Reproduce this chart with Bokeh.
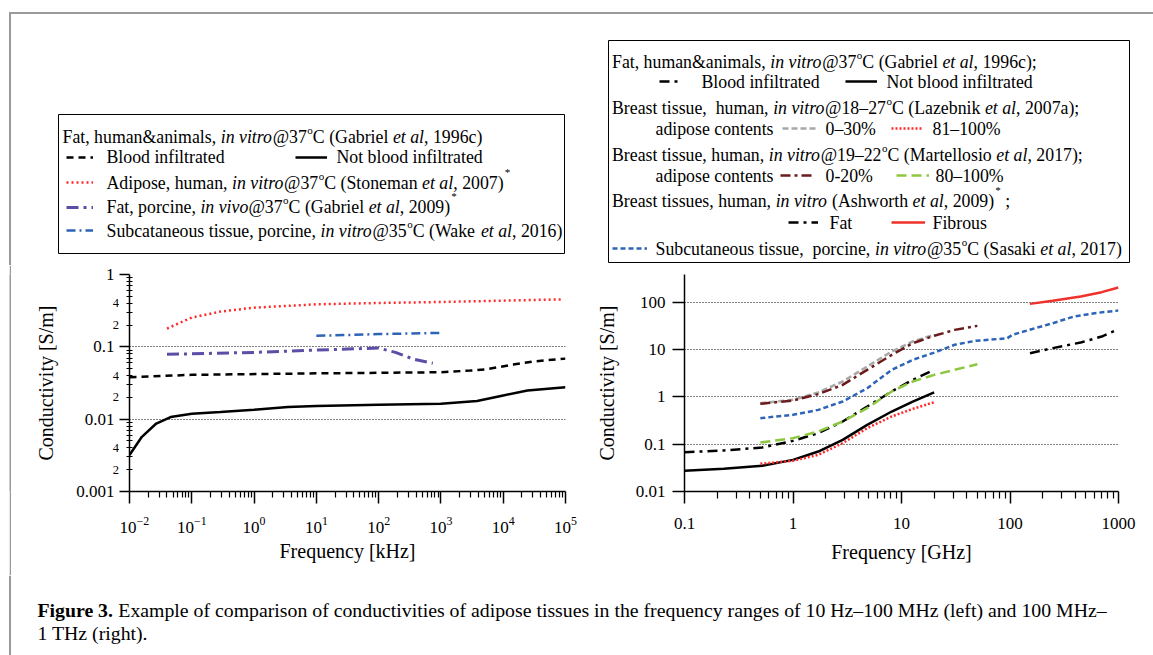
import math
from bokeh.plotting import figure
from bokeh.models import Range1d, FixedTicker, Label, BoxAnnotation, Legend, LegendItem, LogScale, Spacer
from bokeh.layouts import column, row
from bokeh.embed import file_html
from bokeh.resources import INLINE

SERIF = "Liberation Serif"

# ---------------- data: left panel (frequency kHz, conductivity S/m) ----------------
gab96_notblood_khz = [0.01, 0.0158, 0.0269, 0.0457, 0.1, 0.288, 1, 3.5, 10, 100, 1000, 3800, 10000, 24500, 100000]
gab96_notblood_sm = [0.0032, 0.0057, 0.0087, 0.0107, 0.0119, 0.0126, 0.0135, 0.0147, 0.0152, 0.0158, 0.0163, 0.0178, 0.0213, 0.0249, 0.0277]
gab96_blood_khz = [0.01, 0.1, 10, 1000, 2950, 5000, 14500, 31600, 100000]
gab96_blood_sm = [0.038, 0.041, 0.043, 0.0445, 0.047, 0.0485, 0.0568, 0.063, 0.0687]
stoneman_khz = [0.04, 0.1, 0.288, 1, 10, 100, 1000, 10000, 85000]
stoneman_sm = [0.179, 0.254, 0.307, 0.348, 0.387, 0.404, 0.417, 0.435, 0.453]
gab09_khz = [0.04, 0.1, 1, 10, 100, 186, 355, 740]
gab09_sm = [0.0787, 0.080, 0.0838, 0.0903, 0.0962, 0.0838, 0.068, 0.0592]
wake_khz = [10, 100, 1000]
wake_sm = [0.142, 0.150, 0.156]

# ---------------- data: right panel (frequency GHz, conductivity S/m) ----------------
gab_ghz = [0.1, 0.23, 0.52, 1, 1.71, 2.87, 4.83, 8.13, 12.7, 20]
gab_notblood_sm = [0.0273, 0.0301, 0.0349, 0.0466, 0.070, 0.1236, 0.256, 0.49, 0.796, 1.24]
gab_blood_sm = [0.0678, 0.0735, 0.085, 0.1175, 0.171, 0.301, 0.625, 1.30, 2.29, 3.72]
laz_ghz = [0.5, 1, 1.71, 2.87, 4.83, 8.13, 12.7, 20]
laz_0_30_sm = [0.735, 0.865, 1.24, 2.11, 4.37, 9.08, 14.8, 20.4]
laz_81_100_sm = [0.0385, 0.0445, 0.0596, 0.105, 0.218, 0.385, 0.557, 0.77]
mar_ghz = [0.5, 1, 1.71, 2.87, 4.83, 8.13, 12.7, 20, 30.9, 50]
mar_0_20_sm = [0.711, 0.838, 1.14, 1.79, 3.72, 7.7, 13.6, 19.5, 26, 31.6]
mar_80_100_sm = [0.108, 0.134, 0.185, 0.301, 0.577, 1.30, 2.11, 2.92, 3.72, 4.9]
sas_ghz = [0.5, 1, 1.71, 2.87, 4.83, 8.13, 12.7, 20, 30.9, 48.3, 94.2, 105, 158, 248, 386, 603, 1000]
sas_sm = [0.354, 0.417, 0.531, 0.796, 1.52, 3.72, 6.05, 8.6, 12.6, 15.3, 17.3, 20.4, 26.9, 36, 49.8, 58.7, 66.7]
ash_ghz = [152.8, 247.7, 448.7, 699.8, 1000]
ash_fibrous_sm = [92.2, 107, 132, 163, 204]
ash_fat_sm = [8.37, 10.7, 14.1, 18.8, 26.9]

# ---------------- ticks ----------------
left_x_ticks = [1e-2, 1e-1, 1e0, 1e1, 1e2, 1e3, 1e4, 1e5]
left_y_ticks = [0.001, 0.01, 0.1, 1.0]
left_y_labels = ["0.001", "0.01", "0.1", "1"]
left_y_minor_marked = [0.002, 0.004, 0.02, 0.04, 0.2, 0.4]
left_y_minor_text = ["2", "4", "2", "4", "2", "4"]
right_x_ticks = [0.1, 1.0, 10.0, 100.0, 1000.0]
right_x_labels = ["0.1", "1", "10", "100", "1000"]
right_y_ticks = [0.01, 0.1, 1.0, 10.0, 100.0]
right_y_labels = ["0.01", "0.1", "1", "10", "100"]

# ---------------- line styles ----------------
ST = {
    "blood": dict(line_color="black", line_width=2.5, line_dash="7 5"),
    "notblood": dict(line_color="black", line_width=2.5),
    "stoneman": dict(line_color="#ff2b2b", line_width=2.5, line_dash="2 3"),
    "gab09": dict(line_color="#5a4ea6", line_width=3, line_dash="12 5 3 5"),
    "wake": dict(line_color="#2e64b8", line_width=2.5, line_dash="9 4 2 4"),
    "r_blood": dict(line_color="black", line_width=2.5, line_dash="10 5 3 5"),
    "laz0": dict(line_color="#a8a8a8", line_width=2.5, line_dash="6 3"),
    "laz81": dict(line_color="#ff2b2b", line_width=2.5, line_dash="2 2"),
    "mar0": dict(line_color="#6b1b1b", line_width=2.5, line_dash="10 4 3 4"),
    "mar80": dict(line_color="#8dc63f", line_width=2.5, line_dash="10 5"),
    "sasaki": dict(line_color="#2e64b8", line_width=2.5, line_dash="5 3"),
    "fibrous": dict(line_color="#f0302a", line_width=2.5),
    "ashfat": dict(line_color="black", line_width=2.5, line_dash="10 5 3 5"),
}

# ---------------- text metrics (Times / Liberation Serif, per 1000 em) ----------------
W_REG = {' ': 250, '\u00a0': 250, '%': 833, '&': 778, '(': 333, ')': 333, '*': 500, ',': 250, '-': 333,
         '.': 250, ';': 278, '@': 921, '–': 500,
         'A': 722, 'B': 667, 'C': 667, 'F': 556, 'G': 722, 'H': 722, 'L': 611, 'M': 889, 'N': 722,
         'S': 556, 'T': 611, 'W': 944,
         'a': 444, 'b': 500, 'c': 444, 'd': 500, 'e': 444, 'f': 333, 'g': 500, 'h': 500, 'i': 278,
         'j': 278, 'k': 500, 'l': 278, 'm': 778, 'n': 500, 'o': 500, 'p': 500, 'q': 500, 'r': 333,
         's': 389, 't': 278, 'u': 500, 'v': 500, 'w': 722, 'x': 500, 'y': 500, 'z': 444}
W_IT = {' ': 250, 'a': 500, 'e': 444, 'i': 278, 'l': 278, 'n': 500, 'o': 500, 'r': 389, 't': 278, 'v': 444}
W_BOLD = {'F': 611, 'i': 278, 'g': 500, 'u': 556, 'r': 444, 'e': 444, ' ': 250, '3': 500, '.': 250}


def tw(s, table):
    return sum(table.get(c, 500) for c in s) / 1000.0


FS = 17.8
GREY = "#9a9a9a"


def add_text(p, fr, px, py, text, size, style="normal", align="left", angle=0.0):
    p.add_layout(Label(x=px - fr[0], y=fr[1] - py, x_units="screen", y_units="screen", text=text,
                       text_font=SERIF, text_font_size=f"{size}px", text_font_style=style,
                       text_align=align, text_baseline="middle", text_color="black", angle=angle))


def rich(p, fr, x, y, segs, size=FS):
    for text, kind in segs:
        table = W_IT if kind == "i" else W_REG
        s = size
        dy, dx = 0, 0
        if kind == "sup":
            s, dy, dx = round(size * 0.62, 1), -7, 0.5
        elif kind == "star":
            s, dy, dx = round(size * 0.62, 1), -11, 1
        stripped = text.lstrip(" ")
        lead = tw(text[:len(text) - len(stripped)], table) * s
        if stripped.strip():
            add_text(p, fr, x + dx + lead, y + dy, stripped, s, style="italic" if kind == "i" else "normal")
        x += tw(text, table) * s + dx


def box(p, fr, l, r, t, b, line="black", fill=None):
    p.add_layout(BoxAnnotation(left=l - fr[0], right=r - fr[0], top=fr[1] - t, bottom=fr[1] - b,
                               left_units="screen", right_units="screen", top_units="screen",
                               bottom_units="screen", fill_color=fill, fill_alpha=1 if fill else 0,
                               line_color=line, line_alpha=1, line_width=1))


def sample(p, fr, r, x0, x1, yc):
    p.add_layout(Legend(items=[LegendItem(label=" ", renderers=[r])],
                        location=(x0 - fr[0], fr[1] - yc - 4),
                        glyph_width=int(round(x1 - x0)), glyph_height=8, label_height=8, label_width=0,
                        label_standoff=0, padding=0, margin=0, spacing=0, border_line_color=None,
                        background_fill_alpha=0, label_text_font_size="1px", label_text_alpha=0))


def blank(w, h):
    p = figure(width=w, height=h, x_range=Range1d(-2, -1), y_range=Range1d(-2, -1),
               x_axis_type=None, y_axis_type=None, output_backend="svg", toolbar_location=None,
               min_border_left=0, min_border_right=0, min_border_top=0, min_border_bottom=0)
    p.outline_line_color = None
    return p


def style_axes(p):
    p.outline_line_color = None
    p.xgrid.visible = False
    p.ygrid.grid_line_color = "black"
    p.ygrid.grid_line_dash = "1 2"
    p.ygrid.grid_line_width = 1
    for ax in (p.xaxis[0], p.yaxis[0]):
        ax.axis_line_width = 1.5
        ax.axis_line_color = "black"
        ax.major_tick_line_width = 1.5
        ax.major_tick_line_color = "black"
        ax.major_tick_out = 12
        ax.major_tick_in = 0
        ax.minor_tick_line_width = 1.2
        ax.minor_tick_line_color = "black"
        ax.major_label_text_font = SERIF
        ax.major_label_text_font_size = "17px"
        ax.major_label_text_color = "black"
        ax.axis_label_text_font = SERIF
        ax.axis_label_text_font_size = "20px"
        ax.axis_label_text_font_style = "normal"
        ax.axis_label_text_color = "black"


NB = "\u00a0"

# =============== TOP: legends ===============
frT = (0, 265)
pT = blank(1153, 265)
proxy = {k: pT.line(gab_ghz, gab_blood_sm, **v) for k, v in ST.items()}

box(pT, frT, 8.5, 1153, 11.5, 13.5, line=None, fill=GREY)
box(pT, frT, 8.5, 10.5, 11.5, 265, line=None, fill=GREY)

# left legend
box(pT, frT, 58, 564, 114, 253)
rich(pT, frT, 62, 136, [("Fat, human&animals, ", "n"), ("in vitro", "i"), ("@37", "n"), ("o", "sup"),
                        ("C (Gabriel ", "n"), ("et al", "i"), (", 1996c)", "n")])
sample(pT, frT, proxy["blood"], 66, 93, 156.5)
rich(pT, frT, 106, 156.5, [("Blood infiltrated", "n")])
sample(pT, frT, proxy["notblood"], 295, 327, 156.5)
rich(pT, frT, 336, 156.5, [("Not blood infiltrated", "n")])
sample(pT, frT, proxy["stoneman"], 66, 93, 182)
rich(pT, frT, 106, 182, [("Adipose, human, ", "n"), ("in vitro", "i"), ("@37", "n"), ("o", "sup"),
                         ("C (Stoneman ", "n"), ("et al", "i"), (", 2007)", "n"), ("*", "star")])
sample(pT, frT, proxy["gab09"], 66, 93, 206.5)
rich(pT, frT, 106, 206.5, [("Fat, porcine, ", "n"), ("in vivo", "i"), ("@37", "n"), ("o", "sup"),
                           ("C (Gabriel ", "n"), ("et al", "i"), (", 2009)", "n"), ("*", "star")])
sample(pT, frT, proxy["wake"], 66, 93, 230)
rich(pT, frT, 106, 230, [("Subcataneous tissue, porcine, ", "n"), ("in vitro", "i"), ("@35", "n"),
                         ("o", "sup"), ("C (Wake ", "n"), ("et al", "i"), (", 2016)", "n")])

# right legend
box(pT, frT, 608, 1129, 40, 262)
rich(pT, frT, 611.5, 61, [("Fat, human&animals, ", "n"), ("in vitro", "i"), ("@37", "n"), ("o", "sup"),
                          ("C (Gabriel ", "n"), ("et al", "i"), (", 1996c);", "n")])
sample(pT, frT, proxy["r_blood"], 659, 681, 81)
rich(pT, frT, 701, 81, [("Blood infiltrated", "n")])
sample(pT, frT, proxy["notblood"], 845, 877, 81)
rich(pT, frT, 886, 81, [("Not blood infiltrated", "n")])
rich(pT, frT, 611.5, 107, [("Breast tissue," + NB + " human, ", "n"), ("in vitro", "i"), ("@18–27", "n"),
                           ("o", "sup"), ("C (Lazebnik ", "n"), ("et al", "i"), (", 2007a);", "n")])
rich(pT, frT, 655, 128, [("adipose contents", "n")])
sample(pT, frT, proxy["laz0"], 782, 816, 128)
rich(pT, frT, 825, 128, [("0–30%", "n")])
sample(pT, frT, proxy["laz81"], 891, 923, 128)
rich(pT, frT, 932, 128, [("81–100%", "n")])
rich(pT, frT, 611.5, 154, [("Breast tissue, human, ", "n"), ("in vitro", "i"), ("@19–22", "n"), ("o", "sup"),
                           ("C (Martellosio ", "n"), ("et al", "i"), (", 2017);", "n")])
rich(pT, frT, 655, 175, [("adipose contents", "n")])
sample(pT, frT, proxy["mar0"], 780, 813, 175)
rich(pT, frT, 825, 175, [("0-20%", "n")])
sample(pT, frT, proxy["mar80"], 896, 929, 175)
rich(pT, frT, 935, 175, [("80–100%", "n")])
rich(pT, frT, 611.5, 200, [("Breast tissues, human, ", "n"), ("in vitro", "i"), (" (Ashworth ", "n"),
                           ("et al", "i"), (", 2009)", "n"), ("*", "star"), (" ;", "n")])
sample(pT, frT, proxy["ashfat"], 788, 818, 222)
rich(pT, frT, 829, 222, [("Fat", "n")])
sample(pT, frT, proxy["fibrous"], 891, 925, 222)
rich(pT, frT, 932, 222, [("Fibrous", "n")])
sample(pT, frT, proxy["sasaki"], 612, 647, 248)
rich(pT, frT, 655, 248, [("Subcutaneous tissue," + NB + " porcine, ", "n"), ("in vitro", "i"), ("@35", "n"),
                         ("o", "sup"), ("C (Sasaki ", "n"), ("et al", "i"), (", 2017)", "n")])

# =============== ROW: strip | left y labels | left plot | right plot ===============
ROW_H = 310
B_TOP, B_BOT = 9, 84          # frame borders of both plots (frame y: 274 .. 491 on the page)
pS = figure(width=2, height=ROW_H, x_range=Range1d(0, 1), y_range=Range1d(0, 1),
            x_axis_type=None, y_axis_type=None, output_backend="svg", toolbar_location=None,
            min_border_left=0, min_border_right=0, min_border_top=0, min_border_bottom=0,
            background_fill_color=GREY, border_fill_color=GREY)
pS.outline_line_color = None

# left plot
pL = figure(width=461, height=ROW_H, x_axis_type="log", y_axis_type="log",
            x_range=Range1d(1e-2, 1e5), y_range=Range1d(1e-3, 1.0),
            output_backend="svg", toolbar_location=None,
            min_border_left=10, min_border_right=15, min_border_top=B_TOP, min_border_bottom=B_BOT)
style_axes(pL)
pL.xaxis.ticker = FixedTicker(ticks=left_x_ticks,
                              minor_ticks=[m * t for t in left_x_ticks[:-1] for m in range(2, 10)])
pL.yaxis.ticker = FixedTicker(ticks=left_y_ticks,
                              minor_ticks=[m * t for t in left_y_ticks[:-1] for m in range(2, 10)])
pL.yaxis.major_label_overrides = {t: "" for t in left_y_ticks}
pL.yaxis.major_label_text_font_size = "0px"
pL.yaxis.major_label_standoff = 0
pL.yaxis.major_tick_out = 10
pL.xaxis.minor_tick_out = 6
pL.xaxis.minor_tick_in = 0
pL.yaxis.minor_tick_out = 3
pL.yaxis.minor_tick_in = 3
pL.xaxis.major_label_standoff = 13
pL.xaxis.axis_label = "Frequency [kHz]"
pL.xaxis.axis_label_standoff = 4

pL.line(gab96_blood_khz, gab96_blood_sm, **ST["blood"])
pL.line(gab96_notblood_khz, gab96_notblood_sm, **ST["notblood"])
pL.line(stoneman_khz, stoneman_sm, **ST["stoneman"])
pL.line(gab09_khz, gab09_sm, **ST["gab09"])
pL.line(wake_khz, wake_sm, **ST["wake"])

# left y-label strip: same log mapping as the left plot, frame = whole strip height
DEC = (ROW_H - B_TOP - B_BOT) / 3.0
pY = figure(width=108, height=ROW_H, x_range=Range1d(0, 1),
            y_range=Range1d(10 ** (-3 - B_BOT / DEC), 10 ** (B_TOP / DEC)),
            x_axis_type=None, y_axis_type=None, output_backend="svg", toolbar_location=None,
            min_border_left=0, min_border_right=0, min_border_top=0, min_border_bottom=0)
pY.y_scale = LogScale()
pY.outline_line_color = None
for v, s in zip(left_y_ticks, left_y_labels):
    pY.add_layout(Label(x=103, y=v, x_units="screen", y_units="data", text=s, text_font=SERIF,
                        text_font_size="17px", text_align="right", text_baseline="middle",
                        text_color="black"))
for v, s in zip(left_y_minor_marked, left_y_minor_text):
    pY.add_layout(Label(x=107.5, y=v, x_units="screen", y_units="data", text=s, text_font=SERIF,
                        text_font_size="12.5px", text_align="right", text_baseline="middle",
                        text_color="black"))
pY.add_layout(Label(x=34, y=ROW_H - (382.5 - 265), x_units="screen", y_units="screen",
                    text="Conductivity [S/m]", text_font=SERIF, text_font_size="20px",
                    text_align="center", text_baseline="middle", text_color="black", angle=math.pi / 2))

# right plot
pR = figure(width=573, height=ROW_H, x_axis_type="log", y_axis_type="log",
            x_range=Range1d(0.1, 1000), y_range=Range1d(0.01, 385),
            output_backend="svg", toolbar_location=None,
            min_border_left=104, min_border_right=35, min_border_top=B_TOP, min_border_bottom=B_BOT)
style_axes(pR)
pR.xaxis.ticker = FixedTicker(ticks=right_x_ticks,
                              minor_ticks=[m * t for t in right_x_ticks[:-1] for m in range(2, 10)])
pR.yaxis.ticker = FixedTicker(ticks=right_y_ticks, minor_ticks=[])
pR.xaxis.major_label_overrides = dict(zip(right_x_ticks, right_x_labels))
pR.yaxis.major_label_overrides = dict(zip(right_y_ticks, right_y_labels))
pR.xaxis.minor_tick_out = 7
pR.xaxis.minor_tick_in = 0
pR.yaxis.minor_tick_line_color = None
pR.xaxis.major_label_standoff = 14
pR.yaxis.major_label_standoff = 7
pR.xaxis.axis_label = "Frequency [GHz]"
pR.yaxis.axis_label = "Conductivity [S/m]"
pR.xaxis.axis_label_standoff = 9
pR.yaxis.axis_label_standoff = 15

pR.line(gab_ghz, gab_blood_sm, **ST["r_blood"])
pR.line(gab_ghz, gab_notblood_sm, **ST["notblood"])
pR.line(laz_ghz, laz_0_30_sm, **ST["laz0"])
pR.line(laz_ghz, laz_81_100_sm, **ST["laz81"])
pR.line(mar_ghz, mar_0_20_sm, **ST["mar0"])
pR.line(mar_ghz, mar_80_100_sm, **ST["mar80"])
pR.line(sas_ghz, sas_sm, **ST["sasaki"])
pR.line(ash_ghz, ash_fibrous_sm, **ST["fibrous"])
pR.line(ash_ghz, ash_fat_sm, **ST["ashfat"])

# =============== CAPTION ===============
frC = (0, 655)
pC = blank(1153, 80)
CS = 19.8
add_text(pC, frC, 37, 609, "Figure 3.", CS, style="bold")
x2 = 37 + (tw("Figure 3.", W_BOLD) + 0.25) * CS
add_text(pC, frC, x2, 609, "Example of comparison of conductivities of adipose tissues in the frequency ranges "
                           "of 10 Hz–100 MHz (left) and 100 MHz–", CS)
add_text(pC, frC, 37, 632, "1 THz (right).", CS)
box(pC, frC, 8.5, 10.5, 575, 655, line=None, fill=GREY)

layout = column(pT, row(Spacer(width=9, height=ROW_H), pS, column(pY), pL, pR), pC)
open("out.html", "w").write(file_html(layout, INLINE))
